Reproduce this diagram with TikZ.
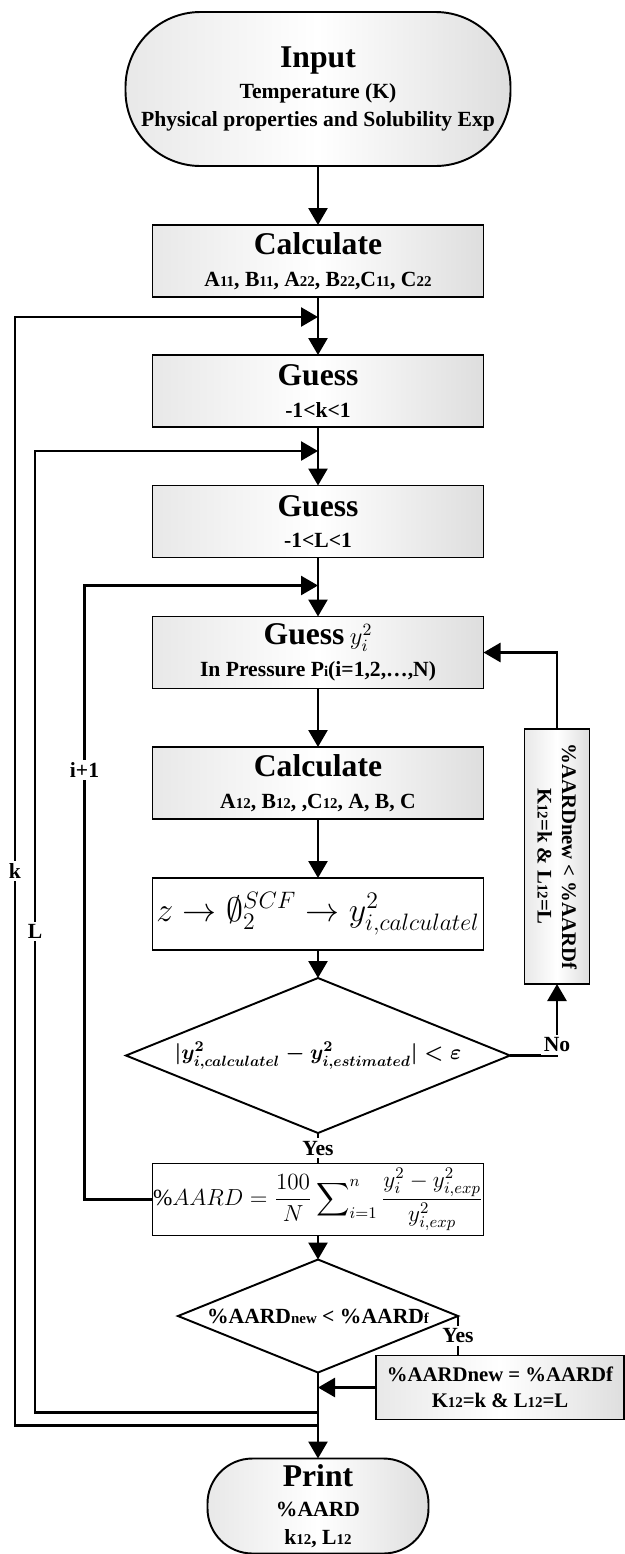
\RequirePackage{fix-cm}
\documentclass[tikz,border=0pt]{standalone}
\usepackage{amsmath,amssymb,bm}
\usepackage{fontspec}
\setmainfont{Liberation Serif}
\usepackage{tikz}
\usetikzlibrary{arrows.meta,positioning,shapes.geometric,calc}
\tikzstyle{frame}=[draw, line width=1.1pt, align=center, inner sep=0pt, outer sep=0pt,
font=\bfseries\fontsize{12.3}{16}\selectfont]
\tikzstyle{etape} = [frame, left color=black!9, right color=black!13, middle color=white,
minimum width=6.62cm, minimum height=1.44cm]
\tikzstyle{etapeNu} = [frame, fill=white, minimum width=6.62cm, minimum height=1.44cm]
\tikzstyle{termi} = [etape, rounded corners=1.5cm, minimum width=7.7cm, minimum height=3.08cm]
\tikzstyle{choix} = [diamond, draw, line width=1.1pt, fill=white, inner sep=0pt, outer sep=0pt,
font=\bfseries\fontsize{12.3}{16}\selectfont]
\tikzstyle{line} = [draw, line width=1.5pt, -{Triangle[length=0.34cm,width=0.38cm]}]
\tikzstyle{wire} = [draw, line width=1.5pt]
\tikzstyle{texto} = [fill=white, inner sep=1.5pt, font=\bfseries\fontsize{12.3}{14}\selectfont]
\newcommand{\hd}[1]{{\fontsize{18}{21}\selectfont #1}}
\newcommand{\lo}[1]{{\fontsize{8.5}{10}\selectfont #1}}
\newcommand{\etape}[2]{node (p#1)[etape]{#2}}
\newcommand{\etapeNu}[2]{node (p#1)[etapeNu]{#2}}
\newcommand{\termi}[3]{node (p#1)[termi,#2]{#3}}
\newcommand{\choix}[3]{node (p#1)[choix,#2]{\makebox[0pt]{#3}}}
\begin{document}
\begin{tikzpicture}
\useasboundingbox (0,0) rectangle (12.5,-31.08);

% Draw diagram elements
\path (6.36,-1.78) \termi{1}{}{\hd{Input}\\[2pt] Temperature (K)\\ Physical properties and Solubility Exp};
\path (p1.south)+(0,-1.90) \etape{2}{\hd{Calculate}\\[2pt] A\lo{11}, B\lo{11}, A\lo{22}, B\lo{22},C\lo{11}, C\lo{22}};
\path (p2.south)+(0,-1.88) \etape{3}{\hd{Guess}\\[2pt] -1<k<1};
\path (p3.south)+(0,-1.89) \etape{4}{\hd{Guess}\\[2pt] -1<L<1};
\path (p4.south)+(0,-1.90) \etape{5}{\hd{Guess} {\mdseries\fontsize{14}{16}\selectfont $y_i^2$}\\[2pt] In Pressure P\lo{i}(i=1,2,\dots,N)};
\path (p5.south)+(0,-1.89) \etape{6}{\hd{Calculate}\\[2pt] A\lo{12}, B\lo{12}, ,C\lo{12}, A, B, C};
\path (p6.south)+(0,-1.90) \etapeNu{7}{\mdseries\fontsize{19.3}{21}\selectfont $z \rightarrow \emptyset_2^{SCF} \rightarrow y^2_{i,calculatel}$};
\path (p7.south)+(0,-2.11) \choix{8}{minimum width=7.68cm, minimum height=3.1cm}{\fontsize{12.1}{15}\selectfont\boldmath$\lvert y^2_{i,calculatel} - y^2_{i,estimated}\rvert < \varepsilon$};
\path (p8.south)+(0,-1.33) \etapeNu{9}{\mdseries\fontsize{13.2}{16}\selectfont $\displaystyle \%AARD = \frac{100}{N}\sum\nolimits_{i=1}^{n} \frac{y_i^2 - y^2_{i,exp}}{y^2_{i,exp}}$};
\path (p9.south)+(0,-1.61) \choix{10}{minimum width=5.6cm, minimum height=2.26cm}{\%AARD\lo{new} < \%AARD\lo{f}};
\path (p10.east)+(0.84,-1.43) node (p11)[etape, minimum width=4.96cm, minimum height=1.28cm,
  font=\bfseries\fontsize{11.8}{15}\selectfont]{\%AARDnew = \%AARDf\\ K\lo{12}=k \& L\lo{12}=L};
\path (p10.south)+(0,-2.67) \termi{12}{rounded corners=0.9cm, minimum width=4.42cm, minimum height=1.9cm,
  font=\bfseries\fontsize{12.3}{16}\selectfont}{\hd{Print}\\[1pt] \%AARD\\ k\lo{12}, L\lo{12}};
\path (p7.east)+(1.47,1.15) node (p13)[etape, rotate=-90, minimum width=5.1cm, minimum height=1.3cm,
  font=\bfseries\fontsize{11.8}{14}\selectfont]{\%AARDnew < \%AARDf\\ K\lo{12}=k \& L\lo{12}=L};

% loop joints on the main line
\coordinate (kIn) at ($(p2.south)+(0,-0.4)$);
\coordinate (lIn) at ($(p3.south)+(0,-0.48)$);
\coordinate (iIn) at ($(p4.south)+(0,-0.56)$);
\coordinate (kOut) at ($(p12.north)+(0,0.66)$);
\coordinate (lOut) at ($(p12.north)+(0,0.92)$);

% Draw arrows between elements
\path [line] (p1) -- (p2);
\path [line] (p2) -- (p3);
\path [line] (p3) -- (p4);
\path [line] (p4) -- (p5);
\path [line] (p5) -- (p6);
\path [line] (p6) -- (p7);
\path [line] (p7) -- (p8);
\path [wire] (p8) -- node [texto]{Yes} (p9);
\path [line] (p9) -- (p10);
\path [line] (p10) -- (p12);
\path [wire] (p10.east) -- node [texto]{Yes} (p10.east |- p11.north);
\path [line] (p11.west) -- (p11.west -| p12.north);
\path [line] (p8.east) -| node [texto, yshift=6pt]{No} (p13.east);
\path [line] (p13.west) |- (p5.east);
\path [line] (p9.west) -- ++(-1.36,0) |- node [texto, pos=0.35]{i+1} (iIn);
\path [line] (lOut) -- ++(-5.66,0) |- node [texto, pos=0.25]{L} (lIn);
\path [line] (kOut) -- ++(-6.06,0) |- node [texto, pos=0.25]{k} (kIn);

\end{tikzpicture}
\end{document}
